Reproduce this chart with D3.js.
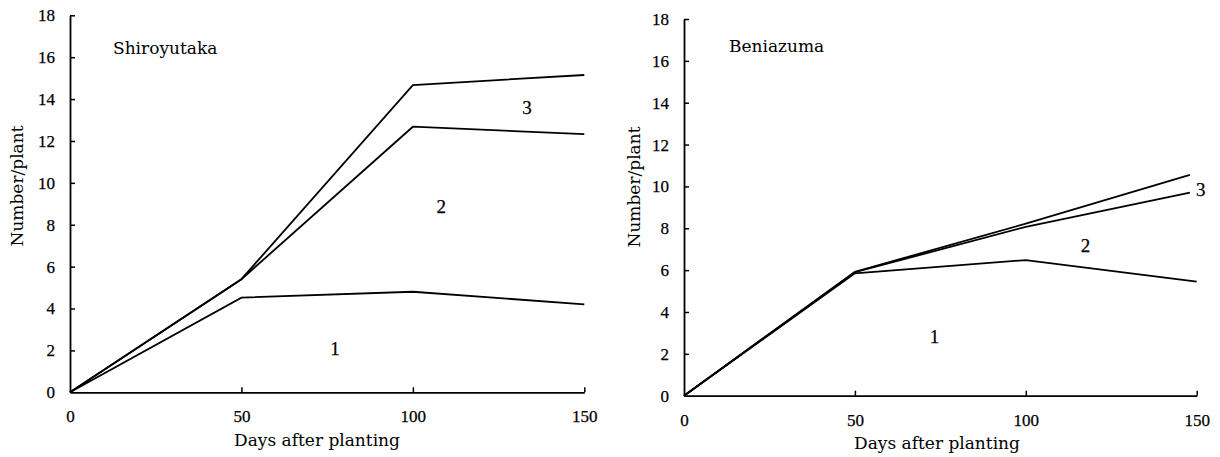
<!DOCTYPE html>
<html>
<head>
<meta charset="utf-8">
<script src="https://cdn.jsdelivr.net/npm/d3@7/dist/d3.min.js"></script>
<style>
  html, body { margin: 0; padding: 0; background: #fff; }
  svg { display: block; }
</style>
</head>
<body>
<svg id="chart" width="1220" height="457"></svg>
<script>
// ---- Data ----
const days = [0, 50, 100, 150];
const xTicks = [0, 50, 100, 150];
const yTicks = [0, 2, 4, 6, 8, 10, 12, 14, 16, 18];

// Shiroyutaka (cumulative boundaries)
const shiroLine1 = [0, 4.52, 4.8, 4.2];
const shiroLine2 = [0, 5.4, 12.68, 12.33];
const shiroLine3 = [0, 5.4, 14.67, 15.15];

// Beniazuma (cumulative boundaries)
const beniDays12 = [0, 50, 100, 150];
const beniDays3 = [0, 50, 100, 148];
const beniLine1 = [0, 5.85, 6.48, 5.45];
const beniLine2 = [0, 5.9, 8.07, 9.7];
const beniLine3 = [0, 5.92, 8.22, 10.55];

// Region labels [day, value, text]
const shiroLabels = [[77.3, 2.1, "1"], [108.3, 8.85, "2"], [133.3, 13.6, "3"]];
const beniLabels  = [[73.3, 2.85, "1"], [117.5, 7.17, "2"], [151.2, 9.83, "3"]];

const panels = [
  { title: "Shiroyutaka", x0: 70, x1: 584.3, yb: 392.3, yt: 15.3,
    series: [[days, shiroLine1], [days, shiroLine2], [days, shiroLine3]],
    labels: shiroLabels, titlePos: [113, 54], ylabX: 23, ylabY: 186, xlabX: 317, xlabY: 446 },
  { title: "Beniazuma", x0: 684, x1: 1196.7, yb: 395.7, yt: 19,
    series: [[beniDays12, beniLine1], [beniDays3, beniLine2], [beniDays3, beniLine3]],
    labels: beniLabels, titlePos: [729, 52], ylabX: 640, ylabY: 187, xlabX: 937, xlabY: 449 }
];

const svg = d3.select("#chart");
const numFont = "'Liberation Serif', 'Times New Roman', serif";
const txtFont = "'DejaVu Serif', serif";

panels.forEach(p => {
  const x = d3.scaleLinear().domain([0, 150]).range([p.x0, p.x1]);
  const y = d3.scaleLinear().domain([0, 18]).range([p.yb, p.yt]);
  const g = svg.append("g");

  const yAxis = d3.axisLeft(y).tickValues(yTicks).tickSizeInner(-5).tickSizeOuter(0).tickPadding(15);
  const ya = g.append("g").attr("transform", `translate(${p.x0},0)`).call(yAxis);
  const xAxis = d3.axisBottom(x).tickValues(xTicks).tickSizeInner(-5).tickSizeOuter(0).tickPadding(18);
  const xa = g.append("g").attr("transform", `translate(0,${p.yb})`).call(xAxis);

  [ya, xa].forEach(a => {
    a.select(".domain").attr("stroke", "#000").attr("stroke-width", 1.8);
    a.selectAll(".tick line").attr("stroke", "#000").attr("stroke-width", 1.5);
    a.selectAll(".tick text").attr("font-family", numFont).attr("font-size", 17)
      .attr("fill", "#000").attr("stroke", "#000").attr("stroke-width", 0.25);
  });
  xa.selectAll(".tick").filter(d => d === 0).select("line").remove();
  ya.selectAll(".tick").filter(d => d === 0).select("line").remove();

  const line = d3.line().x(d => x(d[0])).y(d => y(d[1]));
  p.series.forEach(([xs, vs]) => {
    g.append("path")
      .datum(xs.map((d, i) => [d, vs[i]]))
      .attr("d", line)
      .attr("fill", "none")
      .attr("stroke", "#000")
      .attr("stroke-width", 1.8)
      .attr("stroke-linejoin", "miter");
  });

  g.selectAll("text.reg").data(p.labels).enter().append("text")
    .attr("class", "reg")
    .attr("x", d => x(d[0])).attr("y", d => y(d[1]))
    .attr("text-anchor", "middle").attr("dominant-baseline", "central")
    .attr("font-family", numFont).attr("font-size", 19)
    .attr("stroke", "#000").attr("stroke-width", 0.25)
    .text(d => d[2]);

  g.append("text").attr("x", p.titlePos[0]).attr("y", p.titlePos[1])
    .attr("font-family", txtFont).attr("font-size", 17).text(p.title);

  g.append("text").attr("x", p.xlabX).attr("y", p.xlabY)
    .attr("text-anchor", "middle")
    .attr("font-family", txtFont).attr("font-size", 17).text("Days after planting");
  g.append("text")
    .attr("transform", `translate(${p.ylabX},${p.ylabY}) rotate(-90)`)
    .attr("text-anchor", "middle")
    .attr("font-family", txtFont).attr("font-size", 17).text("Number/plant");
});
</script>
</body>
</html>
